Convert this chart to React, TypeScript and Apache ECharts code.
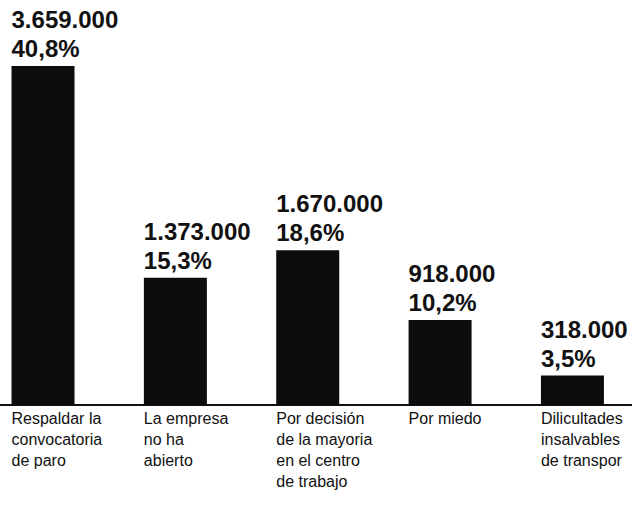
import React, { useEffect, useRef } from "react";
import * as echarts from "echarts";

const categories = [
  "Respaldar la\nconvocatoria\nde paro",
  "La empresa\nno ha\nabierto",
  "Por decisión\nde la mayoria\nen el centro\nde trabajo",
  "Por miedo",
  "Dilicultades\ninsalvables\nde transpor",
];
const values = [3659000, 1373000, 1670000, 918000, 318000];
const valueLabels = ["3.659.000", "1.373.000", "1.670.000", "918.000", "318.000"];
const percentLabels = ["40,8%", "15,3%", "18,6%", "10,2%", "3,5%"];
const zeros = [0, 0, 0, 0, 0];

const FONT = "'Liberation Sans Narrow', 'Arial Narrow', 'Liberation Sans', Arial, sans-serif";

export default function App() {
  const ref = useRef<HTMLDivElement>(null);
  useEffect(() => {
    if (!ref.current) return;
    const chart = echarts.init(ref.current, undefined, { renderer: "svg" });
    chart.setOption({
      animation: false,
      backgroundColor: "#ffffff",
      grid: { left: 0, right: 0, top: 66, bottom: 100, containLabel: false },
      xAxis: {
        type: "value",
        min: -0.325,
        max: 4.45,
        show: true,
        axisLine: { show: true, onZero: false, lineStyle: { color: "#111", width: 2 } },
        axisTick: { show: false },
        axisLabel: { show: false },
        splitLine: { show: false },
      },
      yAxis: {
        type: "value",
        min: 0,
        max: 3659000,
        show: false,
        splitLine: { show: false },
      },
      series: [
        {
          type: "bar",
          data: values.map((v, i) => [i, v]),
          barWidth: 63,
          barGap: "-100%",
          itemStyle: { color: "#0d0d0d" },
          label: {
            show: true,
            position: "top",
            align: "left",
            offset: [-31.5, 0],
            distance: 3,
            formatter: (p: any) =>
              `{v|${valueLabels[p.dataIndex]}}\n{v|${percentLabels[p.dataIndex]}}`,
            rich: {
              v: {
                fontFamily: FONT,
                fontWeight: "bold",
                fontSize: 24,
                lineHeight: 29,
                color: "#111",
                align: "left",
              },
            },
          },
        },
        {
          type: "bar",
          data: zeros.map((v, i) => [i, v]),
          barWidth: 63,
          barGap: "-100%",
          itemStyle: { color: "transparent" },
          label: {
            show: true,
            position: "bottom",
            align: "left",
            verticalAlign: "top",
            offset: [-31.5, 0],
            distance: 3,
            formatter: (p: any) => categories[p.dataIndex],
            fontFamily: FONT,
            fontSize: 16,
            lineHeight: 21,
            color: "#111",
          },
        },
      ],
    });
    return () => chart.dispose();
  }, []);
  return <div ref={ref} style={{ width: 632, height: 505, position: "absolute", left: 0, top: 0 }} />;
}
